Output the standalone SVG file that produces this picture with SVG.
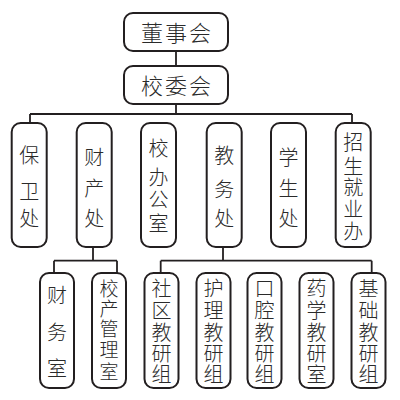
<svg xmlns="http://www.w3.org/2000/svg" width="400" height="400" viewBox="0 0 400 400">
<style>
.box{fill:#fff;stroke:#231f20;stroke-width:2}
.ln{fill:none;stroke:#231f20;stroke-width:1.8}
text{font-family:"Noto Sans CJK SC","Noto Sans CJK JP",sans-serif;font-weight:300;fill:#2a2a2a;text-anchor:middle}
.t1{font-size:22px;letter-spacing:2px}
.t2{font-size:20px}
.t3{font-size:20px}
.t3s{font-size:19px}
</style>
<rect width="400" height="400" fill="#fff"/>
<g id="connectors">
<path class="ln" d="M176 51V66M176 104V114M30 114H352M30 114V123M352 114V123"/>
<path class="ln" d="M93 247V260.7M54 260.7H117M54 260.7V273M117 260.7V273"/>
<path class="ln" d="M223 247V260.7M160.7 260.7H371.7M160.7 260.7V273M371.7 260.7V273"/>
</g>
<g id="n-dongshihui"><rect class="box" x="124" y="13" width="104" height="38" rx="9"/><text class="t1" x="177" y="40.5">董事会</text></g>
<g id="n-xiaoweihui"><rect class="box" x="124" y="66" width="104" height="38" rx="9"/><text class="t1" x="177" y="94">校委会</text></g>
<g id="n-baowei"><rect class="box" x="11.7" y="123" width="35" height="124" rx="9"/><text class="t2" x="29.2 29.2 29.2" y="162.6 198.6 225.6">保卫处</text></g>
<g id="n-caichan"><rect class="box" x="76.7" y="123" width="35" height="124" rx="9"/><text class="t2" x="94.2 94.2 94.2" y="164.6 195.6 225.6">财产处</text></g>
<g id="n-xiaoban"><rect class="box" x="141" y="123" width="35" height="124" rx="9"/><text class="t2" x="158.5 158.5 158.5 158.5" y="155.6 184.6 206.6 230.6">校办公室</text></g>
<g id="n-jiaowu"><rect class="box" x="206.7" y="123" width="35" height="124" rx="9"/><text class="t2" x="224.2 224.2 224.2" y="162.6 196.6 225.6">教务处</text></g>
<g id="n-xuesheng"><rect class="box" x="271" y="123" width="35" height="124" rx="9"/><text class="t2" x="288.5 288.5 288.5" y="164.6 195.6 225.6">学生处</text></g>
<g id="n-zhaosheng"><rect class="box" x="335.7" y="123" width="35" height="124" rx="9"/><text class="t2" x="353.2 353.2 353.2 353.2 353.2" y="150 173.5 194.5 216.5 238.5">招生就业办</text></g>
<g id="n-caiwu"><rect class="box" x="40" y="273" width="34" height="115" rx="9"/><text class="t3" x="57 57 57" y="302.6 339.6 375.6">财务室</text></g>
<g id="n-xiaochan"><rect class="box" x="92" y="273" width="34" height="115" rx="9"/><text class="t3s" x="109 109 109 109 109" y="296.2 315.7 335.7 357.2 379.2">校产管理室</text></g>
<g id="n-shequ"><rect class="box" x="144.5" y="273" width="34" height="115" rx="9"/><text class="t3" x="161.5 161.5 161.5 161.5 161.5" y="295.6 317.6 339.6 360.6 381.6">社区教研组</text></g>
<g id="n-huli"><rect class="box" x="196.5" y="273" width="34" height="115" rx="9"/><text class="t3" x="213.5 213.5 213.5 213.5 213.5" y="295.6 317.6 339.6 360.6 381.6">护理教研组</text></g>
<g id="n-kouqiang"><rect class="box" x="247.5" y="273" width="34" height="115" rx="9"/><text class="t3" x="264.5 264.5 264.5 264.5 264.5" y="295.6 317.6 339.6 360.6 381.6">口腔教研组</text></g>
<g id="n-yaoxue"><rect class="box" x="299.5" y="273" width="34" height="115" rx="9"/><text class="t3" x="316.5 316.5 316.5 316.5 316.5" y="295.6 317.6 339.6 360.6 381.6">药学教研室</text></g>
<g id="n-jichu"><rect class="box" x="351.5" y="273" width="34" height="115" rx="9"/><text class="t3" x="368.5 368.5 368.5 368.5 368.5" y="295.6 317.6 339.6 360.6 381.6">基础教研组</text></g>
</svg>
